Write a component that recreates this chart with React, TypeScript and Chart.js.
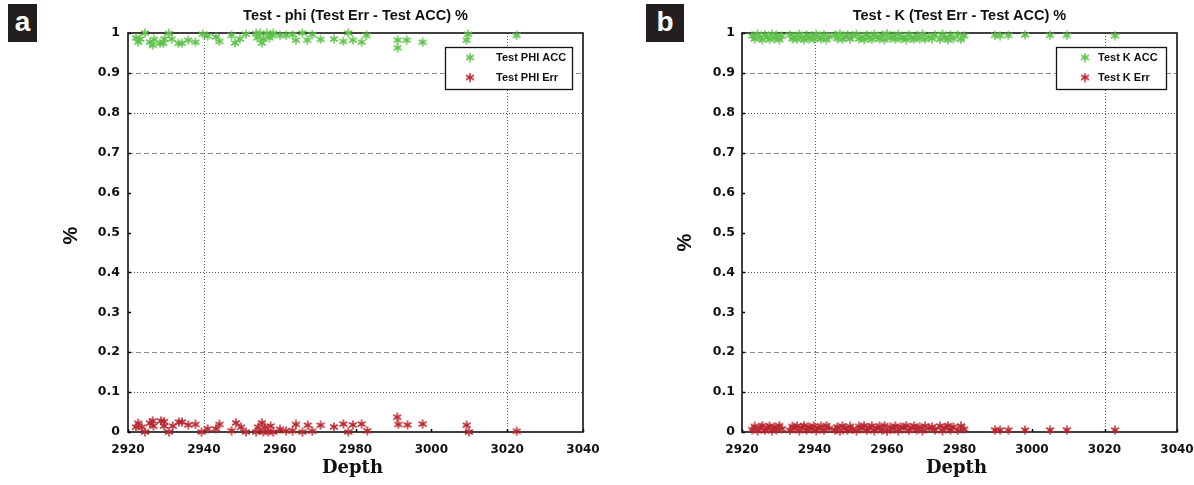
import React, { useEffect, useRef } from 'react';
import { Chart, registerables } from 'chart.js';

Chart.register(...registerables);

// ---------- axes ----------
const X_TICKS = [2920, 2940, 2960, 2980, 3000, 3020, 3040];
const X_TICK_LABELS = ['2920', '2940', '2960', '2980', '3000', '3020', '3040'];
const Y_TICKS = [0, 0.1, 0.2, 0.3, 0.4, 0.5, 0.6, 0.7, 0.8, 0.9, 1];
const Y_TICK_LABELS = ['0', '0.1', '0.2', '0.3', '0.4', '0.5', '0.6', '0.7', '0.8', '0.9', '1'];
const GRID_Y_DASHED = [0.9, 0.7, 0.2];
const GRID_Y_DOTTED = [0.8, 0.4, 0.1];
const GRID_X_DOTTED = [2940, 3020];

// ---------- panel a : phi ----------
const PHI_ACC_DEPTH = [
  2922.1, 2922.7, 2923.2, 2924.5, 2925.8, 2926.5, 2926.9, 2928.4, 2929.3, 2929.6,
  2930.8, 2931.5, 2933.3, 2934.2, 2935.9, 2937.8, 2939.7, 2941.0, 2943.2, 2944.1,
  2947.3, 2948.2, 2949.5, 2951.1, 2953.8, 2954.1, 2954.8, 2955.3, 2955.7, 2956.6,
  2957.3, 2957.9, 2958.3, 2960.1, 2961.7, 2963.4, 2964.3, 2966.0, 2967.3, 2968.6,
  2970.8, 2974.3, 2976.8, 2978.1, 2979.3, 2981.6, 2982.9, 2991.1, 2991.1, 2993.5,
  2997.7, 3009.3, 3009.7, 3022.5,
];
const PHI_ACC = [
  0.988, 0.977, 0.985, 1.0, 0.977, 0.969, 0.984, 0.974, 0.974, 0.985,
  0.999, 0.985, 0.974, 0.974, 0.982, 0.977, 0.997, 0.992, 0.99, 0.979,
  0.994, 0.975, 0.985, 0.997, 0.999, 0.988, 0.999, 0.975, 0.985, 0.999,
  0.988, 0.994, 0.999, 0.994, 0.994, 0.996, 0.982, 1.0, 0.982, 0.996,
  0.984, 0.985, 0.979, 1.0, 0.982, 0.977, 0.994, 0.982, 0.963, 0.982,
  0.977, 0.982, 0.997, 0.994,
];
const PHI_ERR_DEPTH = [
  2922.1, 2922.7, 2923.6, 2924.5, 2925.8, 2926.5, 2926.7, 2928.7, 2929.5, 2929.5,
  2930.8, 2931.8, 2933.4, 2934.2, 2935.9, 2937.8, 2939.4, 2941.0, 2943.2, 2944.1,
  2947.3, 2948.5, 2949.8, 2951.1, 2953.8, 2954.3, 2955.3, 2955.7, 2956.1, 2957.0,
  2957.6, 2958.3, 2960.1, 2961.7, 2963.4, 2964.3, 2966.0, 2967.4, 2968.6, 2970.8,
  2974.3, 2976.8, 2978.1, 2979.3, 2981.6, 2983.1, 2991.0, 2991.3, 2993.7, 2997.7,
  3009.3, 3009.9, 3022.5,
];
const PHI_ERR = [
  0.012, 0.022, 0.012, 0.0, 0.022, 0.028, 0.015, 0.028, 0.026, 0.015,
  0.0, 0.015, 0.025, 0.025, 0.018, 0.019, 0.0, 0.008, 0.008, 0.019,
  0.003, 0.023, 0.012, 0.0, 0.0, 0.012, 0.023, 0.0, 0.012, 0.0,
  0.015, 0.0, 0.007, 0.003, 0.003, 0.019, 0.0, 0.017, 0.002, 0.017,
  0.013, 0.02, 0.0, 0.018, 0.02, 0.003, 0.037, 0.019, 0.018, 0.02,
  0.017, 0.0, 0.002,
];

// ---------- panel b : K ----------
const K_DEPTH = [
  2922.8, 2923.5, 2924.3, 2925.0, 2925.6, 2926.3, 2927.0, 2927.6, 2928.3, 2929.0, 2929.6, 2930.3, 2931.0,
  2933.2, 2933.9, 2934.5, 2935.2, 2935.8, 2936.5, 2937.1, 2937.8, 2938.4, 2939.1, 2939.8, 2940.5,
  2941.1, 2941.8, 2942.6, 2943.3, 2944.0,
  2945.6, 2946.3, 2947.0, 2947.7, 2948.4, 2949.1, 2949.8, 2950.5,
  2951.6, 2952.3, 2953.0, 2953.7, 2954.4, 2955.1, 2955.8, 2956.5, 2957.2, 2957.9, 2958.6, 2959.3, 2960.0,
  2960.9, 2961.6, 2962.3, 2963.1, 2963.8, 2964.6, 2965.3, 2966.0, 2966.8, 2967.5, 2968.2, 2969.0, 2969.8,
  2970.5, 2971.6, 2972.4, 2973.2,
  2974.6, 2975.3, 2976.1, 2976.8, 2977.5, 2978.3, 2979.5, 2980.4, 2981.3,
  2989.8, 2991.2, 2993.5, 2998.1, 3005.0, 3009.6, 3022.9,
];
const K_ACC = [
  0.993, 0.985, 0.997, 0.988, 0.983, 0.996, 0.990, 0.984, 0.997, 0.986, 0.994, 0.983, 0.992,
  0.996, 0.985, 0.991, 0.984, 0.997, 0.988, 0.983, 0.995, 0.986, 0.992, 0.984, 0.997,
  0.989, 0.985, 0.996, 0.983, 0.991,
  0.995, 0.986, 0.998, 0.984, 0.990, 0.996, 0.985, 0.993,
  0.997, 0.985, 0.991, 0.983, 0.996, 0.988, 0.984, 0.997, 0.990, 0.985, 0.995, 0.983, 0.998,
  0.987, 0.992, 0.984, 0.997, 0.986, 0.990, 0.983, 0.996, 0.988, 0.984, 0.994, 0.986, 0.997,
  0.984, 0.991, 0.986, 0.995,
  0.984, 0.997, 0.988, 0.983, 0.995, 0.986, 0.996, 0.984, 0.993,
  0.994, 0.993, 0.994, 0.995, 0.994, 0.994, 0.993,
];
const K_ERR = [
  0.006, 0.014, 0.003, 0.011, 0.016, 0.004, 0.009, 0.015, 0.003, 0.013, 0.006, 0.016, 0.008,
  0.004, 0.014, 0.009, 0.015, 0.003, 0.011, 0.016, 0.005, 0.013, 0.008, 0.015, 0.003,
  0.010, 0.014, 0.004, 0.016, 0.009,
  0.005, 0.013, 0.002, 0.015, 0.010, 0.004, 0.014, 0.007,
  0.003, 0.014, 0.009, 0.016, 0.004, 0.011, 0.015, 0.003, 0.010, 0.014, 0.005, 0.016, 0.002,
  0.012, 0.008, 0.015, 0.003, 0.013, 0.010, 0.016, 0.004, 0.011, 0.015, 0.006, 0.013, 0.003,
  0.015, 0.009, 0.013, 0.005,
  0.015, 0.003, 0.011, 0.016, 0.005, 0.013, 0.004, 0.015, 0.007,
  0.005, 0.005, 0.005, 0.005, 0.005, 0.005, 0.005,
];

const GREEN = '#5fc24c';
const RED = '#b8262e';

function makeAsterisk(color: string) {
  const c = document.createElement('canvas');
  const s = 10;
  c.width = s;
  c.height = s;
  const g = c.getContext('2d')!;
  g.strokeStyle = color;
  g.lineWidth = 1.5;
  g.lineCap = 'round';
  const cx = s / 2, cy = s / 2, r = 4;
  for (const a of [90, 30, 150]) {
    const rad = (a * Math.PI) / 180;
    g.beginPath();
    g.moveTo(cx - r * Math.cos(rad), cy - r * Math.sin(rad));
    g.lineTo(cx + r * Math.cos(rad), cy + r * Math.sin(rad));
    g.stroke();
  }
  return c;
}

const decorPlugin = {
  id: 'decor',
  beforeDatasetsDraw(chart: any) {
    const { ctx, chartArea: a } = chart;
    const x = chart.scales.x, y = chart.scales.y;
    ctx.save();
    ctx.lineWidth = 1;
    ctx.strokeStyle = '#8c8c8c';
    ctx.setLineDash([5, 3]);
    for (const v of GRID_Y_DASHED) {
      const py = Math.round(y.getPixelForValue(v)) + 0.5;
      ctx.beginPath(); ctx.moveTo(a.left, py); ctx.lineTo(a.right, py); ctx.stroke();
    }
    ctx.strokeStyle = '#555';
    ctx.setLineDash([1, 2]);
    for (const v of GRID_Y_DOTTED) {
      const py = Math.round(y.getPixelForValue(v)) + 0.5;
      ctx.beginPath(); ctx.moveTo(a.left, py); ctx.lineTo(a.right, py); ctx.stroke();
    }
    for (const v of GRID_X_DOTTED) {
      const px = Math.round(x.getPixelForValue(v)) + 0.5;
      ctx.beginPath(); ctx.moveTo(px, a.top); ctx.lineTo(px, a.bottom); ctx.stroke();
    }
    ctx.setLineDash([]);
    ctx.strokeStyle = '#000';
    ctx.lineWidth = 1.5;
    for (const v of Y_TICKS) {
      const py = Math.round(y.getPixelForValue(v)) + 0.5;
      ctx.beginPath(); ctx.moveTo(a.left, py); ctx.lineTo(a.left + 3, py); ctx.stroke();
    }
    for (const v of X_TICKS) {
      const px = Math.round(x.getPixelForValue(v)) + 0.5;
      ctx.beginPath(); ctx.moveTo(px, a.bottom); ctx.lineTo(px, a.bottom - 3); ctx.stroke();
    }
    ctx.lineWidth = 1.6;
    ctx.strokeStyle = '#111';
    ctx.strokeRect(a.left, a.top, a.right - a.left, a.bottom - a.top);
    ctx.restore();
  },
  afterDraw(chart: any, _args: any, opts: any) {
    const { ctx, chartArea: a } = chart;
    const cx = (a.left + a.right) / 2;
    ctx.save();
    ctx.fillStyle = '#111';
    ctx.textAlign = 'center';
    ctx.textBaseline = 'middle';
    ctx.font = 'bold 14.5px "Liberation Sans", Arial, sans-serif';
    ctx.fillText(opts.title, cx, 16);
    ctx.font = 'bold 18px "DejaVu Serif", serif';
    ctx.fillText('Depth', cx - 3, 468);
    ctx.save();
    ctx.translate(a.left - 57, (a.top + a.bottom) / 2 + opts.pctDy);
    ctx.rotate(-Math.PI / 2);
    ctx.font = 'bold 20px "Liberation Sans", Arial, sans-serif';
    ctx.fillText('%', 0, 0);
    ctx.restore();

    // legend
    const L = opts.legend;
    const bx = Math.round(a.right - L.rightGap - L.w);
    const by = Math.round(a.top + 14);
    ctx.fillStyle = '#fff';
    ctx.fillRect(bx, by, L.w, L.h);
    ctx.strokeStyle = '#111';
    ctx.lineWidth = 1.3;
    ctx.strokeRect(bx + 0.5, by + 0.5, L.w, L.h);
    ctx.textAlign = 'left';
    ctx.fillStyle = '#111';
    ctx.font = 'bold 11px "Liberation Sans", Arial, sans-serif';
    const rows = [10.5, 30.5];
    L.labels.forEach((lab: string, i: number) => {
      const img = L.markers[i];
      ctx.drawImage(img, bx + L.markerDx - img.width / 2, by + rows[i] - img.height / 2);
      ctx.fillText(lab, bx + L.textDx, by + rows[i]);
    });
    ctx.restore();
  },
};

function buildChart(canvas: HTMLCanvasElement, cfg: any) {
  const accMark = makeAsterisk(GREEN);
  const errMark = makeAsterisk(RED);
  const xFont = { family: '"DejaVu Sans", Verdana, sans-serif', size: 12, weight: 'bold' as const };
  const yFont = { family: '"DejaVu Sans", Verdana, sans-serif', size: 12.5, weight: 'bold' as const };
  return new Chart(canvas, {
    type: 'scatter',
    data: {
      datasets: [
        {
          label: cfg.labels[0],
          data: cfg.accDepth.map((d: number, i: number) => ({ x: d, y: cfg.acc[i] })),
          pointStyle: accMark as any,
          pointRadius: 4,
          borderWidth: 0,
          clip: false as any,
        },
        {
          label: cfg.labels[1],
          data: cfg.errDepth.map((d: number, i: number) => ({ x: d, y: cfg.err[i] })),
          pointStyle: errMark as any,
          pointRadius: 4,
          borderWidth: 0,
          clip: false as any,
        },
      ],
    },
    options: {
      animation: false,
      responsive: false,
      maintainAspectRatio: false,
      events: [],
      layout: { padding: { left: 0, right: cfg.padRight, top: 33, bottom: 0 } },
      plugins: {
        legend: { display: false },
        title: { display: false },
        tooltip: { enabled: false },
        decor: {
          title: cfg.title,
          pctDy: cfg.pctDy,
          legend: {
            labels: cfg.labels,
            markers: [accMark, errMark],
            w: cfg.legendW,
            h: 42,
            rightGap: 11,
            markerDx: cfg.markerDx,
            textDx: cfg.textDx,
          },
        },
      } as any,
      scales: {
        x: {
          type: 'linear',
          min: 2920,
          max: 3040,
          afterBuildTicks: (s: any) => { s.ticks = X_TICKS.map((v) => ({ value: v })); },
          afterFit: (s: any) => { s.height = 53; s.paddingLeft = 0; s.paddingRight = 0; },
          grid: { display: false, drawTicks: false },
          border: { display: false },
          ticks: {
            font: xFont,
            color: '#111',
            padding: 11,
            maxRotation: 0,
            autoSkip: false,
            callback: (_v: any, i: number) => X_TICK_LABELS[i],
          },
        },
        y: {
          type: 'linear',
          min: 0,
          max: 1,
          afterBuildTicks: (s: any) => { s.ticks = Y_TICKS.map((v) => ({ value: v })); },
          afterFit: (s: any) => { s.width = cfg.yWidth; s.paddingTop = 0; s.paddingBottom = 0; },
          grid: { display: false, drawTicks: false },
          border: { display: false },
          ticks: {
            font: yFont,
            color: '#111',
            padding: cfg.yPad,
            autoSkip: false,
            callback: (_v: any, i: number) => Y_TICK_LABELS[i],
          },
        },
      },
    },
    plugins: [decorPlugin as any],
  });
}

const badgeStyle: React.CSSProperties = {
  position: 'absolute',
  top: 4,
  height: 38,
  background: '#231f20',
  color: '#fff',
  fontFamily: '"Liberation Sans", Arial, sans-serif',
  fontWeight: 'bold',
  fontSize: 28,
  lineHeight: '36px',
  textAlign: 'center',
};

export default function App() {
  const refA = useRef<HTMLCanvasElement>(null);
  const refB = useRef<HTMLCanvasElement>(null);

  useEffect(() => {
    const a = buildChart(refA.current!, {
      title: 'Test - phi (Test Err - Test ACC) %',
      labels: ['Test PHI ACC', 'Test PHI Err'],
      accDepth: PHI_ACC_DEPTH,
      acc: PHI_ACC,
      errDepth: PHI_ERR_DEPTH,
      err: PHI_ERR,
      yWidth: 128,
      padRight: 37,
      yPad: 8,
      pctDy: 3,
      legendW: 127,
      markerDx: 25,
      textDx: 51,
    });
    const b = buildChart(refB.current!, {
      title: 'Test - K (Test Err - Test ACC) %',
      labels: ['Test K ACC', 'Test K Err'],
      accDepth: K_DEPTH,
      acc: K_ACC,
      errDepth: K_DEPTH,
      err: K_ERR,
      yWidth: 145,
      padRight: 17,
      yPad: 7,
      pctDy: 10,
      legendW: 110,
      markerDx: 29,
      textDx: 42,
    });
    return () => {
      a.destroy();
      b.destroy();
    };
  }, []);

  return (
    <div style={{ position: 'absolute', left: 0, top: 0, width: 1194, height: 485, background: '#fff', overflow: 'hidden' }}>
      <canvas ref={refA} width={620} height={485} style={{ position: 'absolute', left: 0, top: 0, width: 620, height: 485 }} />
      <canvas ref={refB} width={597} height={485} style={{ position: 'absolute', left: 597, top: 0, width: 597, height: 485 }} />
      <div style={{ ...badgeStyle, left: 8, width: 29 }}>a</div>
      <div style={{ ...badgeStyle, left: 646, width: 38 }}>b</div>
    </div>
  );
}
